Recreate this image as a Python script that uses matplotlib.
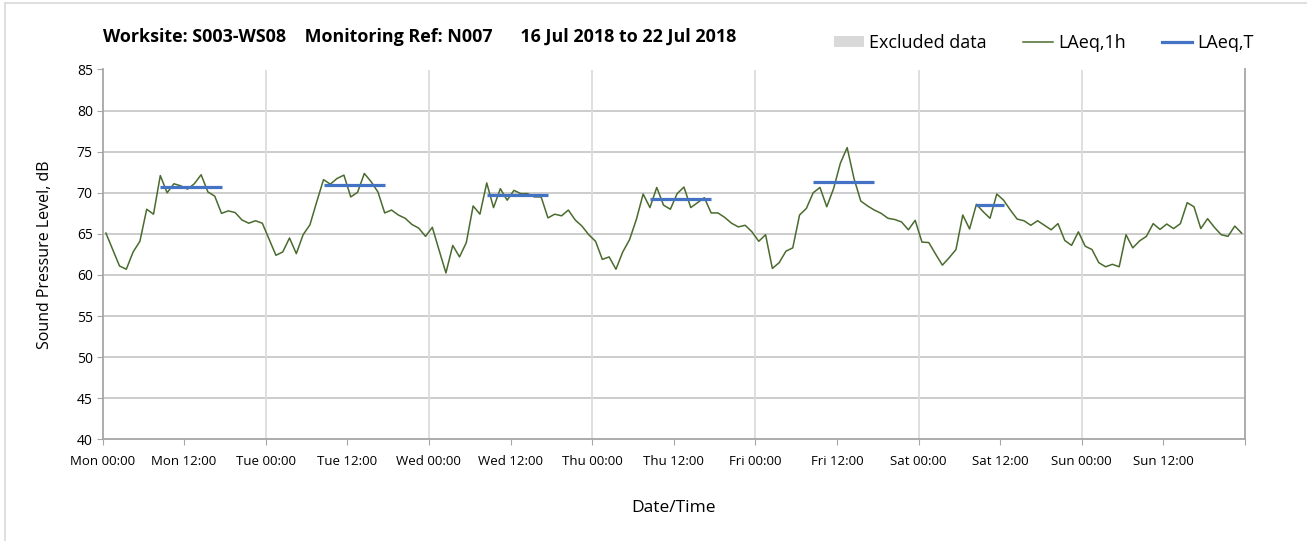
import matplotlib
matplotlib.use("Agg")
import matplotlib.pyplot as plt
from matplotlib.lines import Line2D
from matplotlib.patches import Patch

plt.rcParams['font.family'] = ['Open Sans', 'DejaVu Sans']

# Hourly LAeq,1h values, Mon 00:00 .. Sun 23:00 (168 hours)
laeq_1h = [
    # Mon
    65.1, 63.1, 61.1, 60.7, 62.8, 64.1, 68.0, 67.4, 72.1, 70.0, 71.1, 70.85,
    70.45, 71.1, 72.2, 70.1, 69.6, 67.5, 67.8, 67.6, 66.7, 66.3, 66.6, 66.3,
    # Tue
    64.35, 62.4, 62.8, 64.5, 62.6, 64.9, 66.1, 68.9, 71.6, 71.05, 71.75, 72.15,
    69.5, 70.05, 72.35, 71.35, 70.1, 67.55, 67.9, 67.3, 66.9, 66.15, 65.7, 64.7,
    # Wed
    65.8, 63.0, 60.25, 63.6, 62.2, 63.95, 68.4, 67.4, 71.2, 68.2, 70.5, 69.1,
    70.3, 69.9, 69.9, 69.5, 69.5, 66.95, 67.4, 67.2, 67.9, 66.7, 65.95, 64.9,
    # Thu
    64.1, 61.9, 62.2, 60.7, 62.8, 64.3, 66.75, 69.85, 68.2, 70.65, 68.5, 68.0,
    69.9, 70.7, 68.2, 68.8, 69.4, 67.55, 67.55, 67.0, 66.3, 65.85, 66.05, 65.25,
    # Fri
    64.1, 64.9, 60.8, 61.5, 62.9, 63.3, 67.3, 68.1, 70.0, 70.65, 68.3, 70.5,
    73.6, 75.5, 71.75, 69.0, 68.4, 67.9, 67.5, 66.9, 66.75, 66.45, 65.5, 66.65,
    # Sat
    64.0, 63.95, 62.55, 61.2, 62.1, 63.1, 67.3, 65.6, 68.6, 67.7, 66.9, 69.85,
    69.1, 67.9, 66.8, 66.6, 66.05, 66.6, 66.05, 65.5, 66.25, 64.2, 63.6, 65.25,
    # Sun
    63.5, 63.1, 61.5, 61.0, 61.3, 61.0, 64.9, 63.3, 64.15, 64.7, 66.25, 65.55,
    66.2, 65.65, 66.25, 68.8, 68.3, 65.65, 66.85, 65.8, 64.9, 64.7, 65.95, 65.1,
]

# LAeq,T daytime periods: (start hour, end hour, level)
laeqT_start = [8, 32, 56, 80, 104, 128]
laeqT_end = [17, 41, 65, 89, 113, 132]
laeqT_value = [70.7, 70.9, 69.7, 69.2, 71.3, 68.55]

tick_labels = ["Mon 00:00", "Mon 12:00", "Tue 00:00", "Tue 12:00", "Wed 00:00",
               "Wed 12:00", "Thu 00:00", "Thu 12:00", "Fri 00:00", "Fri 12:00",
               "Sat 00:00", "Sat 12:00", "Sun 00:00", "Sun 12:00", ""]

title = "Worksite: S003-WS08    Monitoring Ref: N007      16 Jul 2018 to 22 Jul 2018"

green = "#4a6b2e"
blue = "#4472C4"
W, H = 1307, 541

fig = plt.figure(figsize=(W / 100, H / 100), dpi=100)
ax = fig.add_axes([102.5 / W, 1 - 439.4 / H, (1245 - 102.5) / W, (439.4 - 69.5) / H])

hours = [h + 0.5 for h in range(len(laeq_1h))]
ax.plot(hours, laeq_1h, color=green, lw=1.1, zorder=3)
for s, e, v in zip(laeqT_start, laeqT_end, laeqT_value):
    ax.plot([s + 0.5, e + 0.5], [v, v], color=blue, lw=2.3, solid_capstyle='butt', zorder=4)

ax.set_xlim(0, 168)
ax.set_ylim(40, 85)
ax.set_xticks(range(0, 169, 12))
ax.set_xticklabels(tick_labels, fontsize=9.5)
ax.set_yticks(range(40, 86, 5))
ax.tick_params(axis='y', labelsize=10, length=4, color="#a6a6a6", pad=3)
ax.tick_params(axis='x', length=4, color="#a6a6a6", pad=7)

ax.grid(False)
for y in range(45, 86, 5):
    ax.axhline(y, color="#c8c8c8", lw=1.3, zorder=1)
for d in range(24, 168, 24):
    ax.axvline(d, color="#dcdcdc", lw=1.3, zorder=1)

for side in ['left', 'bottom', 'right']:
    ax.spines[side].set_color("#a6a6a6")
    ax.spines[side].set_linewidth(1.3)
ax.spines['top'].set_visible(False)

ax.set_ylabel("Sound Pressure Level, dB", fontsize=11.5, labelpad=17)
ax.set_xlabel("Date/Time", fontsize=12.5, labelpad=23)

fig.text(103 / W, 1 - 37 / H, title, fontsize=12.9, fontweight='bold', va='center', ha='left')

handles = [Patch(facecolor="#d9d9d9", edgecolor='none'),
           Line2D([0], [0], color=green, lw=1.1),
           Line2D([0], [0], color=blue, lw=2.3)]
fig.legend(handles, ["Excluded data", "LAeq,1h", "LAeq,T"], ncol=3, frameon=False,
           loc='center right', bbox_to_anchor=(1270 / W, 1 - 43 / H),
           fontsize=13, handlelength=1.65, handleheight=0.6, columnspacing=2.0,
           handletextpad=0.3)

fig.add_artist(Line2D([4.5 / W, 4.5 / W], [0, 1 - 2.5 / H], color="#d9d9d9", lw=1.2))
fig.add_artist(Line2D([4.5 / W, 1], [1 - 2.5 / H, 1 - 2.5 / H], color="#d9d9d9", lw=1.2))

fig.savefig("out.png", dpi=100, facecolor='white')
